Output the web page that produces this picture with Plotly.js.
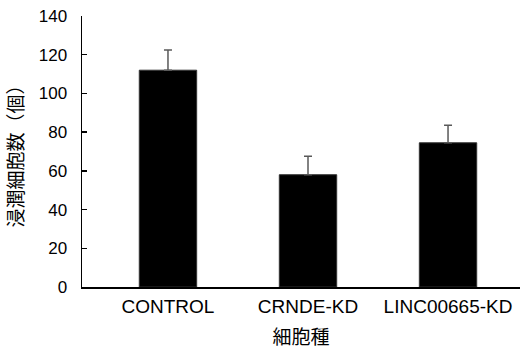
<!DOCTYPE html>
<html>
<head>
<meta charset="utf-8">
<script src="https://cdn.plot.ly/plotly-3.0.1.min.js"></script>
<style>html,body{margin:0;padding:0;background:#fff;}#chart{width:526px;height:349px;}</style>
</head>
<body>
<div id="chart"></div>
<script>
const categories = ["CONTROL", "CRNDE-KD", "LINC00665-KD"];
const values = [112, 58, 74.5];
const errors = [10.5, 9.5, 9];
const yTicks = [0, 20, 40, 60, 80, 100, 120, 140];

const trace = {
  type: "bar",
  x: categories,
  y: values,
  marker: {color: "#000000", line: {color: "#333333", width: 1}},
  error_y: {type: "data", array: errors, symmetric: false, arrayminus: errors.map(() => 0),
            color: "#595959", thickness: 1.5, width: 4},
  width: 0.41,
  hoverinfo: "none"
};

const layout = {
  width: 526, height: 349,
  margin: {l: 82, r: 6, t: 16, b: 62},
  paper_bgcolor: "#fff", plot_bgcolor: "#fff",
  showlegend: false,
  font: {family: "Liberation Sans, Arial, sans-serif", color: "#000"},
  xaxis: {
    type: "category",
    range: [-0.614, 2.514],
    showline: true, linecolor: "#000", linewidth: 1.5,
    ticks: "", showgrid: false, zeroline: false,
    tickfont: {size: 19, family: "Liberation Sans, Arial, sans-serif"},
    ticklabelstandoff: 2,
    title: {text: "細胞種", font: {size: 19, family: "Noto Sans CJK JP"}, standoff: 25}
  },
  yaxis: {
    range: [0, 140],
    tickvals: yTicks,
    ticktext: yTicks.map(String),
    showline: true, linecolor: "#000", linewidth: 1.5,
    ticks: "inside", ticklen: 5, tickwidth: 1.5, tickcolor: "#000",
    showgrid: false, zeroline: false,
    tickfont: {size: 17, family: "Liberation Sans, Arial, sans-serif"},
    ticklabelstandoff: 10,
    title: {text: "浸潤細胞数（個）", font: {size: 19, family: "Noto Sans CJK JP"}, standoff: 10}
  }
};

Plotly.newPlot("chart", [trace], layout, {staticPlot: true, displayModeBar: false});
</script>
</body>
</html>
